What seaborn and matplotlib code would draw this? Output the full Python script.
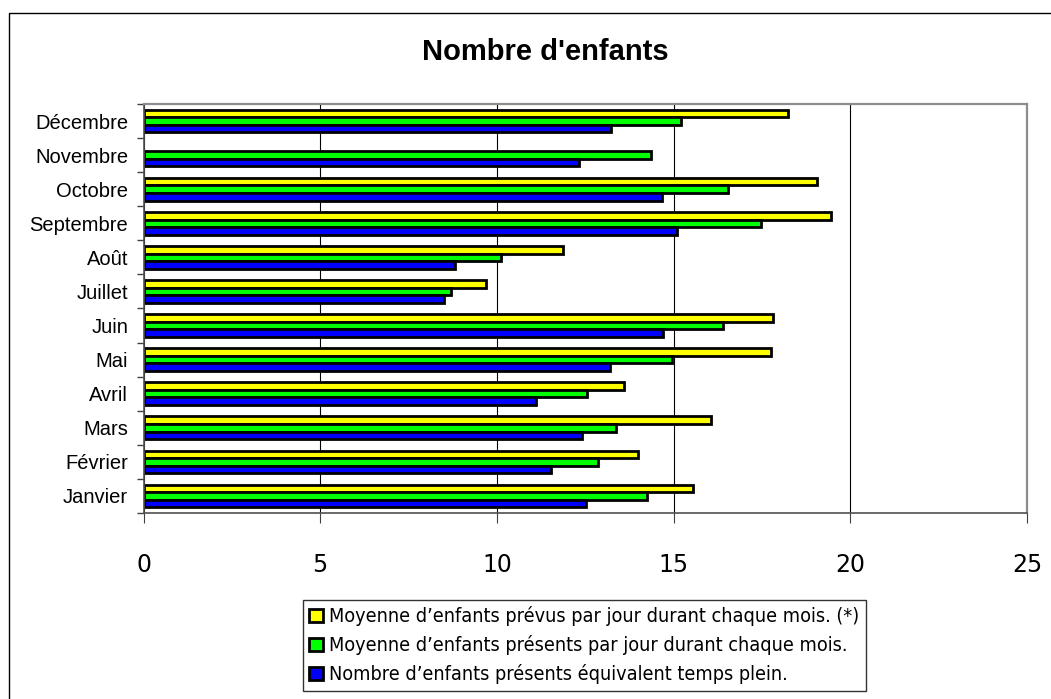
import matplotlib
matplotlib.use("Agg")
import numpy as np
import pandas as pd
import seaborn as sns
import matplotlib.pyplot as plt
from matplotlib.patches import Rectangle

# ==============================
# Données
# ==============================
mois = ["Janvier", "Février", "Mars", "Avril", "Mai", "Juin",
        "Juillet", "Août", "Septembre", "Octobre", "Novembre", "Décembre"]
prevus = [15.56, 14.00, 16.05, 13.61, 17.75, 17.81, 9.69, 11.86, 19.46, 19.06, np.nan, 18.23]
presents = [14.26, 12.85, 13.37, 12.56, 14.95, 16.39, 8.70, 10.12, 17.47, 16.55, 14.36, 15.21]
temps_plein = [12.53, 11.52, 12.41, 11.12, 13.19, 14.70, 8.50, 8.81, 15.09, 14.66, 12.32, 13.24]

series = [
    "Moyenne d\u2019enfants prévus par jour durant chaque mois. (*)",
    "Moyenne d\u2019enfants présents par jour durant chaque mois.",
    "Nombre d\u2019enfants présents équivalent temps plein.",
]
couleurs = ["#FFFF00", "#00FF00", "#0000FF"]
x_ticks = [0, 5, 10, 15, 20, 25]

df = pd.DataFrame({
    "mois": mois * 3,
    "valeur": prevus + presents + temps_plein,
    "serie": [series[0]] * 12 + [series[1]] * 12 + [series[2]] * 12,
})

sns.set_theme(style="white")
plt.rcParams["font.family"] = ["Liberation Sans", "DejaVu Sans"]
plt.rcParams["text.color"] = "black"
plt.rcParams["xtick.color"] = "black"
plt.rcParams["ytick.color"] = "black"

W, H = 1051, 699
fig = plt.figure(figsize=(W / 100, H / 100), dpi=100)
ax = fig.add_axes([143.5 / W, 1 - 513 / H, (1027 - 143.5) / W, (513 - 104) / H])

sns.barplot(data=df, y="mois", x="valeur", hue="serie", order=mois[::-1],
            hue_order=series, palette=couleurs, orient="h", width=0.667,
            errorbar=None, edgecolor="black", linewidth=2.0, saturation=1,
            ax=ax)

ax.set_xlim(0, 25)
ax.set_ylim(11.5, -0.5)
ax.set_xticks(x_ticks)
ax.set_xticklabels([str(t) for t in x_ticks], fontfamily="DejaVu Sans", fontsize=17)
ax.tick_params(axis="x", length=7, width=0.8, color="#404040", direction="out",
               pad=22, bottom=True, labelcolor="black")
ax.tick_params(axis="y", which="major", length=0, pad=11, labelsize=14.5,
               labelcolor="black")
ax.set_yticks(np.arange(-0.5, 12, 1), minor=True)
ax.tick_params(axis="y", which="minor", length=5, width=1, color="#404040",
               direction="out", left=True)
ax.set_xlabel("")
ax.set_ylabel("")

ax.set_axisbelow(True)
ax.xaxis.grid(True, color="black", linewidth=0.8)
ax.yaxis.grid(False)

for cote in ["top", "right"]:
    ax.spines[cote].set_color("#8c8c8c")
    ax.spines[cote].set_linewidth(1.6)
for cote in ["left", "bottom"]:
    ax.spines[cote].set_color("#505050")
    ax.spines[cote].set_linewidth(1.2)

# titre
fig.text(545 / W, 1 - 52 / H, "Nombre d'enfants", ha="center", va="center",
         fontsize=21, fontweight="bold", color="black")

# légende
handles, labels = ax.get_legend_handles_labels()
ax.get_legend().remove()
leg = fig.legend(handles, labels, loc="upper left",
                 bbox_to_anchor=(303 / W, 1 - 600 / H), borderaxespad=0,
                 frameon=True, fancybox=False, shadow=False,
                 prop={"family": "DejaVu Sans", "stretch": "condensed", "size": 14.2},
                 handlelength=0.7, handleheight=0.7, handletextpad=0.3,
                 labelspacing=0.46, borderpad=0.32)
leg.get_frame().set_edgecolor("black")
leg.get_frame().set_linewidth(1.0)
for p in leg.get_patches():
    p.set_edgecolor("black")
    p.set_linewidth(2.0)
for t in leg.get_texts():
    t.set_color("black")

# cadre extérieur
fig.patches.append(Rectangle((9 / W, -0.1), 1.2, (H - 13) / H + 0.1,
                             transform=fig.transFigure, fill=False,
                             edgecolor="black", linewidth=1.0))

fig.savefig("out.png", dpi=100)
